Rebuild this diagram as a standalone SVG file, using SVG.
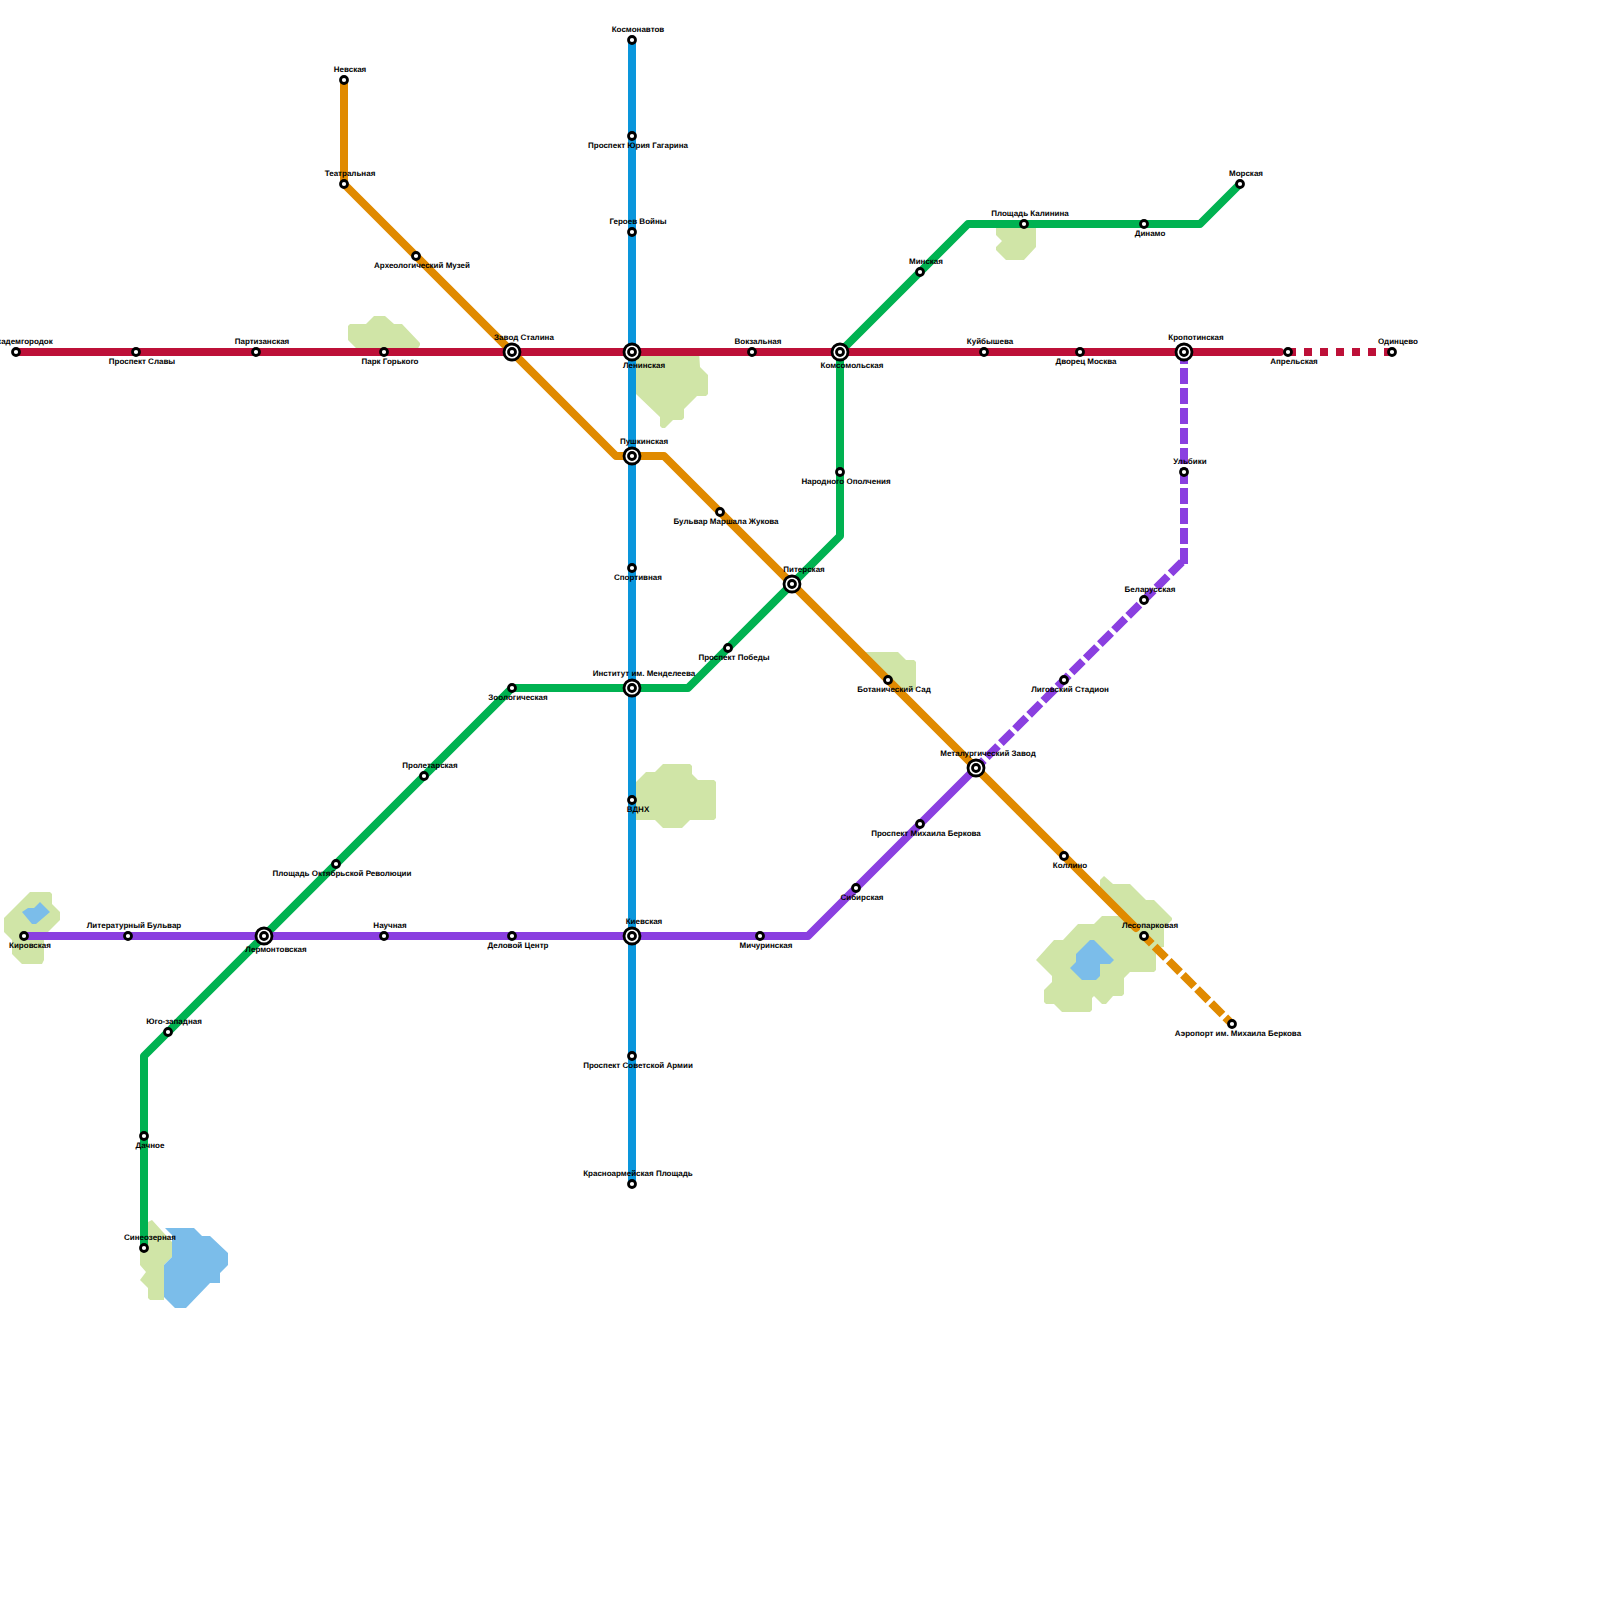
<svg xmlns="http://www.w3.org/2000/svg" width="1600" height="1600" viewBox="0 0 1600 1600">
<style>
.park{fill:#d0e5a7}.water{fill:#7bbdea}
.l{fill:none;stroke-width:8;stroke-linejoin:round;stroke-linecap:round}
.d{stroke-linecap:butt;stroke-linejoin:miter}
.red{stroke:#bd1038}.orange{stroke:#e08a00}.green{stroke:#00b251}.blue{stroke:#0a96dc}.purple{stroke:#8a3fe0}
.s{fill:#fff;stroke:#000;stroke-width:2.8}
.b{fill:#fff;stroke:#000;stroke-width:2.8}
text{font-family:"Liberation Sans",Arial,sans-serif;font-size:8px;font-weight:700;fill:#000;text-anchor:middle;text-rendering:geometricPrecision}
</style>
<defs>
<g id="sm"><circle class="s" r="3.5"/></g>
<g id="bg"><circle class="b" r="8"/><circle class="b" r="3.5"/></g>
</defs>
<g id="terrain">
<polygon class="park" points="30,892 50,892 52,894 52,904 60,912 60,920 44,936 44,960 42,964 22,964 12,954 12,940 4,932 4,918"/>
<polygon class="water" points="40,902 50,912 36,924 32,924 22,912 28,908 34,908"/>
<polygon class="park" points="148,1222 152,1220 172,1242 172,1257 164,1265 164,1300 150,1300 148,1298 148,1288 140,1280 146,1272 140,1265 140,1228"/>
<polygon class="water" points="165,1228 194,1228 202,1236 210,1236 228,1253 228,1265 220,1273 220,1283 210,1283 186,1308 175,1308 164,1297 164,1265 172,1257 172,1235"/>
<polygon class="park" points="1100,880 1104,876 1113,884 1130,884 1146,900 1154,900 1172,918 1172,920 1164,928 1164,947 1156,948 1156,970 1154,972 1130,972 1124,978 1124,994 1122,996 1113,996 1106,1004 1102,1004 1094,996 1092,998 1092,1010 1090,1012 1062,1012 1054,1004 1046,1004 1044,1002 1044,990 1052,982 1052,976 1036,960 1054,940 1063,940 1078,924 1094,924 1102,916 1120,916 1100,892"/>
<polygon class="water" points="1090,940 1094,940 1114,960 1110,964 1100,964 1100,976 1096,980 1082,980 1070,968 1076,962 1076,954"/>
<polygon class="park" points="348,326 350,324 366,324 374,316 385,316 394,324 402,324 420,343 420,345 417,350 358,350 348,340"/>
<polygon class="park" points="636,352 699,352 700,367 708,375 708,394 706,396 697,396 684,409 684,418 682,420 673,420 665,428 662,428 660,426 660,417 636,394"/>
<polygon class="park" points="636,782 646,772 655,772 663,764 690,764 692,766 692,774 698,780 714,780 716,782 716,818 714,820 690,820 682,828 663,828 655,820 636,820"/>
<polygon class="park" points="864,652 898,652 906,660 914,660 916,662 916,688 914,690 895,690"/>
<polygon class="park" points="996,224 1036,224 1036,247 1024,260 1006,260 996,250 996,247 1002,241 996,235"/>
</g>
<g id="connectors">
<path class="l blue" d="M632,40V1184"/>
<path class="l green" d="M144,1248V1056L512,688H688L840,536V352L968,224H1200L1240,184"/>
<path class="l orange" d="M344,80V184L616,456H664L1136,928"/>
<path class="l d orange" stroke-dasharray="16 4" stroke-dashoffset="5" d="M1144,936L1232,1024"/>
<path class="l purple" d="M24,936H808L976,768"/>
<path class="l d purple" stroke-dasharray="16 4" stroke-dashoffset="4" d="M1184,352V564"/>
<path class="l d purple" stroke-dasharray="16 4" stroke-dashoffset="17" d="M1184,560L976,768"/>
<path class="l red" d="M16,352H1280"/>
<path class="l d red" stroke-dasharray="8 8" d="M1288,352H1392"/>
</g>
<g id="st-akademgorodok"><use href="#sm" x="16" y="352"/><text x="22" y="344">Академгородок</text></g>
<g id="st-slavy"><use href="#sm" x="136" y="352"/><text x="142" y="364">Проспект Славы</text></g>
<g id="st-partizanskaya"><use href="#sm" x="256" y="352"/><text x="262" y="344">Партизанская</text></g>
<g id="st-gorkogo"><use href="#sm" x="384" y="352"/><text x="390" y="364">Парк Горького</text></g>
<g id="st-stalina"><use href="#bg" x="512" y="352"/><text x="524" y="340">Завод Сталина</text></g>
<g id="st-leninskaya"><use href="#bg" x="632" y="352"/><text x="644" y="368">Ленинская</text></g>
<g id="st-vokzalnaya"><use href="#sm" x="752" y="352"/><text x="758" y="344">Вокзальная</text></g>
<g id="st-komsomolskaya"><use href="#bg" x="840" y="352"/><text x="852" y="368">Комсомольская</text></g>
<g id="st-kuibysheva"><use href="#sm" x="984" y="352"/><text x="990" y="344">Куйбышева</text></g>
<g id="st-dvorets"><use href="#sm" x="1080" y="352"/><text x="1086" y="364">Дворец Москва</text></g>
<g id="st-kropotinskaya"><use href="#bg" x="1184" y="352"/><text x="1196" y="340">Кропотинская</text></g>
<g id="st-aprelskaya"><use href="#sm" x="1288" y="352"/><text x="1294" y="364">Апрельская</text></g>
<g id="st-odintsevo"><use href="#sm" x="1392" y="352"/><text x="1398" y="344">Одинцево</text></g>
<g id="st-kosmonavtov"><use href="#sm" x="632" y="40"/><text x="638" y="32">Космонавтов</text></g>
<g id="st-gagarina"><use href="#sm" x="632" y="136"/><text x="638" y="148">Проспект Юрия Гагарина</text></g>
<g id="st-geroev"><use href="#sm" x="632" y="232"/><text x="638" y="224">Героев Войны</text></g>
<g id="st-pushkinskaya"><use href="#bg" x="632" y="456"/><text x="644" y="444">Пушкинская</text></g>
<g id="st-sportivnaya"><use href="#sm" x="632" y="568"/><text x="638" y="580">Спортивная</text></g>
<g id="st-mendeleeva"><use href="#bg" x="632" y="688"/><text x="644" y="676">Институт им. Менделеева</text></g>
<g id="st-vdnh"><use href="#sm" x="632" y="800"/><text x="638" y="812">ВДНХ</text></g>
<g id="st-kievskaya"><use href="#bg" x="632" y="936"/><text x="644" y="924">Киевская</text></g>
<g id="st-sov-armii"><use href="#sm" x="632" y="1056"/><text x="638" y="1068">Проспект Советской Армии</text></g>
<g id="st-krasnoarm"><use href="#sm" x="632" y="1184"/><text x="638" y="1176">Красноармейская Площадь</text></g>
<g id="st-nevskaya"><use href="#sm" x="344" y="80"/><text x="350" y="72">Невская</text></g>
<g id="st-teatralnaya"><use href="#sm" x="344" y="184"/><text x="350" y="176">Театральная</text></g>
<g id="st-arheolog"><use href="#sm" x="416" y="256"/><text x="422" y="268">Археологический Музей</text></g>
<g id="st-zhukova"><use href="#sm" x="720" y="512"/><text x="726" y="524">Бульвар Маршала Жукова</text></g>
<g id="st-piterskaya"><use href="#bg" x="792" y="584"/><text x="804" y="572">Питерская</text></g>
<g id="st-botanich"><use href="#sm" x="888" y="680"/><text x="894" y="692">Ботанический Сад</text></g>
<g id="st-metallurg"><use href="#bg" x="976" y="768"/><text x="988" y="756">Металургический Завод</text></g>
<g id="st-kollino"><use href="#sm" x="1064" y="856"/><text x="1070" y="868">Коллино</text></g>
<g id="st-lesopark"><use href="#sm" x="1144" y="936"/><text x="1150" y="928">Лесопарковая</text></g>
<g id="st-aeroport"><use href="#sm" x="1232" y="1024"/><text x="1238" y="1036">Аэропорт им. Михаила Беркова</text></g>
<g id="st-zoolog"><use href="#sm" x="512" y="688"/><text x="518" y="700">Зоологическая</text></g>
<g id="st-proletar"><use href="#sm" x="424" y="776"/><text x="430" y="768">Пролетарская</text></g>
<g id="st-oktyabr"><use href="#sm" x="336" y="864"/><text x="342" y="876">Площадь Октябрьской Революции</text></g>
<g id="st-lermont"><use href="#bg" x="264" y="936"/><text x="276" y="952">Лермонтовская</text></g>
<g id="st-yugozap"><use href="#sm" x="168" y="1032"/><text x="174" y="1024">Юго-западная</text></g>
<g id="st-dachnoe"><use href="#sm" x="144" y="1136"/><text x="150" y="1148">Дачное</text></g>
<g id="st-sineozer"><use href="#sm" x="144" y="1248"/><text x="150" y="1240">Синеозерная</text></g>
<g id="st-pobedy"><use href="#sm" x="728" y="648"/><text x="734" y="660">Проспект Победы</text></g>
<g id="st-opolch"><use href="#sm" x="840" y="472"/><text x="846" y="484">Народного Ополчения</text></g>
<g id="st-minskaya"><use href="#sm" x="920" y="272"/><text x="926" y="264">Минская</text></g>
<g id="st-kalinina"><use href="#sm" x="1024" y="224"/><text x="1030" y="216">Площадь Калинина</text></g>
<g id="st-dinamo"><use href="#sm" x="1144" y="224"/><text x="1150" y="236">Динамо</text></g>
<g id="st-morskaya"><use href="#sm" x="1240" y="184"/><text x="1246" y="176">Морская</text></g>
<g id="st-kirovskaya"><use href="#sm" x="24" y="936"/><text x="30" y="948">Кировская</text></g>
<g id="st-literat"><use href="#sm" x="128" y="936"/><text x="134" y="928">Литературный Бульвар</text></g>
<g id="st-nauchnaya"><use href="#sm" x="384" y="936"/><text x="390" y="928">Научная</text></g>
<g id="st-delovoy"><use href="#sm" x="512" y="936"/><text x="518" y="948">Деловой Центр</text></g>
<g id="st-michurin"><use href="#sm" x="760" y="936"/><text x="766" y="948">Мичуринская</text></g>
<g id="st-sibirskaya"><use href="#sm" x="856" y="888"/><text x="862" y="900">Сибирская</text></g>
<g id="st-berkova"><use href="#sm" x="920" y="824"/><text x="926" y="836">Проспект Михаила Беркова</text></g>
<g id="st-ligovsky"><use href="#sm" x="1064" y="680"/><text x="1070" y="692">Лиговский Стадион</text></g>
<g id="st-belarus"><use href="#sm" x="1144" y="600"/><text x="1150" y="592">Беларусская</text></g>
<g id="st-ulybniki"><use href="#sm" x="1184" y="472"/><text x="1190" y="464">Ульбики</text></g>
</svg>
